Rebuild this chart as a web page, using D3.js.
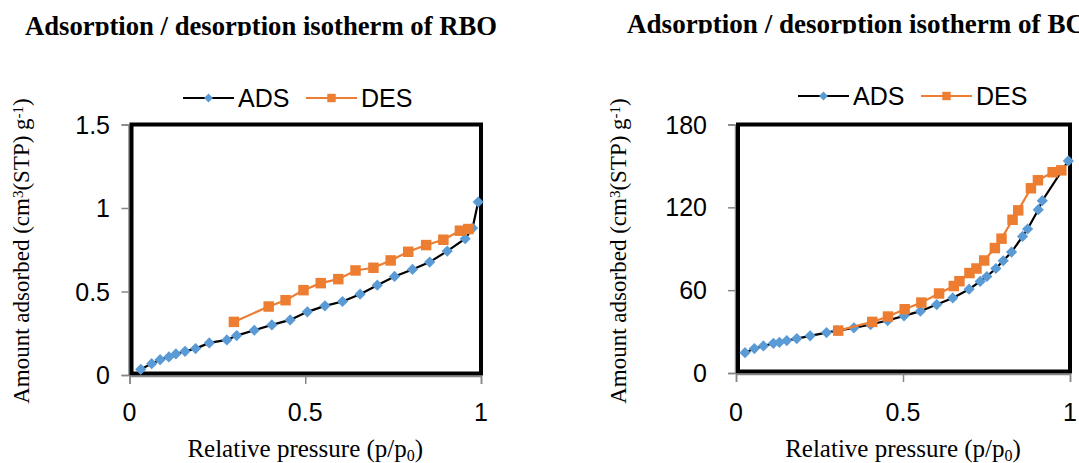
<!DOCTYPE html>
<html>
<head>
<meta charset="utf-8">
<script src="https://cdn.jsdelivr.net/npm/d3@7"></script>
<style>
  body { margin: 0; background: #fff; }
  svg { display: block; }
</style>
</head>
<body>
<div id="chart"></div>
<script>
// RBO isotherm (p/p0, cm3 g-1)
const rboAdsX = [0.032, 0.063, 0.087, 0.112, 0.132, 0.158, 0.188, 0.227, 0.277, 0.305, 0.355, 0.405, 0.457, 0.506, 0.556, 0.606, 0.656, 0.705, 0.754, 0.805, 0.854, 0.904, 0.955, 0.976, 0.992];
const rboAdsY = [0.034, 0.068, 0.092, 0.108, 0.126, 0.142, 0.158, 0.192, 0.21, 0.236, 0.268, 0.30, 0.33, 0.378, 0.414, 0.44, 0.484, 0.538, 0.59, 0.632, 0.676, 0.742, 0.816, 0.88, 1.036];
const rboDesX = [0.297, 0.396, 0.444, 0.495, 0.544, 0.594, 0.643, 0.694, 0.743, 0.793, 0.844, 0.893, 0.94, 0.964];
const rboDesY = [0.318, 0.41, 0.448, 0.508, 0.55, 0.574, 0.626, 0.642, 0.686, 0.738, 0.778, 0.81, 0.864, 0.874];

// BC isotherm
const bcAdsX = [0.027, 0.055, 0.082, 0.112, 0.13, 0.152, 0.182, 0.222, 0.271, 0.303, 0.353, 0.403, 0.454, 0.503, 0.552, 0.601, 0.649, 0.698, 0.731, 0.751, 0.778, 0.80, 0.825, 0.858, 0.873, 0.905, 0.917, 0.995];
const bcAdsY = [14.7, 17.7, 19.6, 21.5, 22.2, 23.5, 24.9, 26.9, 29.3, 30.7, 32.7, 35.1, 38.0, 41.4, 44.8, 49.6, 54.4, 60.7, 66.3, 69.9, 75.7, 81.3, 87.6, 98.9, 104.3, 118.3, 124.8, 153.6];
const bcDesX = [0.306, 0.408, 0.455, 0.505, 0.555, 0.608, 0.652, 0.669, 0.699, 0.72, 0.743, 0.775, 0.795, 0.828, 0.845, 0.883, 0.904, 0.948, 0.974];
const bcDesY = [30.7, 37.0, 40.9, 46.2, 51.0, 57.6, 63.0, 66.5, 72.4, 75.7, 81.5, 90.5, 97.3, 111, 117.8, 133.8, 139.6, 145.4, 146.8];

const xTicks = [0, 0.5, 1];
const rboYTicks = [0, 0.5, 1, 1.5];
const bcYTicks = [0, 60, 120, 180];

const seriesNames = ['ADS', 'DES'];
const adsColor = '#5b9bd5';
const desColor = '#ed7d31';

const svg = d3.select('#chart').append('svg')
    .attr('width', 1079)
    .attr('height', 463);

const zip = (xs, ys) => xs.map((x, i) => ({x: x, y: ys[i]}));

function drawChart(opt) {
    const x = d3.scaleLinear().domain([0, 1]).range([opt.left, opt.right]);
    const y = d3.scaleLinear().domain([0, opt.yMax]).range([opt.bottom, opt.top]);

    // Title (clipped like the original)
    const clipId = 'clip-' + opt.id;
    svg.append('clipPath').attr('id', clipId)
        .append('rect').attr('x', 0).attr('y', 0).attr('width', 1079).attr('height', opt.titleClip);
    svg.append('text')
        .attr('clip-path', `url(#${clipId})`)
        .attr('x', opt.titleX)
        .attr('y', opt.titleY)
        .attr('textLength', opt.titleLen)
        .attr('lengthAdjust', 'spacingAndGlyphs')
        .style('font-family', '"Liberation Serif", "Times New Roman", serif')
        .style('font-weight', 'bold')
        .style('font-size', '28px')
        .text(opt.title);

    // Gray axes with outward ticks
    const axisColor = '#868686';
    const yAxis = d3.axisLeft(y).tickValues(opt.yTicks).tickSize(7).tickFormat('');
    const xAxis = d3.axisBottom(x).tickValues(xTicks).tickSize(8).tickFormat('');
    const gy = svg.append('g').attr('transform', `translate(${opt.left - 1},0)`).call(yAxis);
    const gx = svg.append('g').attr('transform', `translate(0,${opt.bottom + 1})`).call(xAxis);
    [gy, gx].forEach(g => {
        g.select('.domain').attr('stroke', axisColor).attr('stroke-width', 1.5);
        g.selectAll('.tick line').attr('stroke', axisColor).attr('stroke-width', 1.5);
    });

    // Thick black plot border
    svg.append('rect')
        .attr('x', opt.left + 2)
        .attr('y', opt.top)
        .attr('width', opt.right - opt.left - 2)
        .attr('height', opt.bottom - opt.top - 1.5)
        .attr('fill', 'none')
        .attr('stroke', '#000')
        .attr('stroke-width', 4);

    // Tick labels
    svg.selectAll(null).data(opt.yTicks).enter().append('text')
        .attr('x', opt.yLabelX)
        .attr('y', d => y(d) + 9)
        .attr('text-anchor', 'end')
        .style('font-family', '"Liberation Sans", Arial, sans-serif')
        .style('font-size', '25px')
        .text(d => d);
    svg.selectAll(null).data(xTicks).enter().append('text')
        .attr('x', d => x(d))
        .attr('y', 421)
        .attr('text-anchor', 'middle')
        .style('font-family', '"Liberation Sans", Arial, sans-serif')
        .style('font-size', '25px')
        .text(d => d);

    // Axis titles
    const xt = svg.append('text')
        .attr('x', (opt.left + opt.right) / 2)
        .attr('y', 457)
        .attr('text-anchor', 'middle')
        .style('font-family', '"Liberation Serif", "Times New Roman", serif')
        .style('font-size', '25px');
    xt.append('tspan').text('Relative pressure (p/p');
    xt.append('tspan').attr('baseline-shift', '-25%').style('font-size', '16px').text('0');
    xt.append('tspan').text(')');

    const yt = svg.append('text')
        .attr('transform', `translate(${opt.yTitleX},251) rotate(-90)`)
        .attr('text-anchor', 'middle')
        .style('font-family', '"Liberation Serif", "Times New Roman", serif')
        .style('font-size', '23px');
    yt.append('tspan').text('Amount adsorbed (cm');
    yt.append('tspan').attr('baseline-shift', '40%').style('font-size', '15px').text('3');
    yt.append('tspan').text('(STP) g');
    yt.append('tspan').attr('baseline-shift', '40%').style('font-size', '15px').text('-1');
    yt.append('tspan').text(')');

    // Series
    const line = d3.line().x(d => x(d.x)).y(d => y(d.y));
    const ads = zip(opt.adsX, opt.adsY);
    const des = zip(opt.desX, opt.desY);
    const diamond = d3.symbol().type(d3.symbolDiamond2).size(80);
    const square = d3.symbol().type(d3.symbolSquare2).size(140);

    svg.append('path').datum(ads).attr('d', line)
        .attr('fill', 'none').attr('stroke', '#000').attr('stroke-width', 2.2);
    svg.selectAll(null).data(ads).enter().append('path')
        .attr('d', diamond)
        .attr('transform', d => `translate(${x(d.x)},${y(d.y)})`)
        .attr('fill', adsColor);
    svg.append('path').datum(des).attr('d', line)
        .attr('fill', 'none').attr('stroke', desColor).attr('stroke-width', 2.2);
    svg.selectAll(null).data(des).enter().append('path')
        .attr('d', square)
        .attr('transform', d => `translate(${x(d.x)},${y(d.y)})`)
        .attr('fill', desColor);

    // Legend
    const legend = svg.append('g').attr('transform', `translate(${opt.legendX},${opt.legendY})`);
    const items = [
        {name: seriesNames[0], line: '#000', color: adsColor, sym: d3.symbol().type(d3.symbolDiamond2).size(50)},
        {name: seriesNames[1], line: desColor, color: desColor, sym: d3.symbol().type(d3.symbolSquare2).size(90)}
    ];
    items.forEach((it, i) => {
        const g = legend.append('g').attr('transform', `translate(${i * 123},0)`);
        g.append('line').attr('x1', 0).attr('x2', 51).attr('y1', 0).attr('y2', 0)
            .attr('stroke', it.line).attr('stroke-width', 2.2);
        g.append('path').attr('d', it.sym).attr('transform', 'translate(25.5,0)').attr('fill', it.color);
        g.append('text').attr('x', 55).attr('y', 9)
            .style('font-family', '"Liberation Sans", Arial, sans-serif')
            .style('font-size', '25px')
            .text(it.name);
    });
}

drawChart({
    id: 'rbo', title: 'Adsorption / desorption isotherm of RBO',
    titleX: 25, titleY: 35, titleClip: 36, titleLen: 472,
    left: 129.5, right: 481, top: 124.5, bottom: 375,
    yMax: 1.5, yTicks: rboYTicks, yLabelX: 110, yTitleX: 29,
    legendX: 183, legendY: 98,
    adsX: rboAdsX, adsY: rboAdsY, desX: rboDesX, desY: rboDesY
});

drawChart({
    id: 'bc', title: 'Adsorption / desorption isotherm of BC',
    titleX: 627, titleY: 33, titleClip: 33.5, titleLen: 458,
    left: 736, right: 1070, top: 124.5, bottom: 373,
    yMax: 180, yTicks: bcYTicks, yLabelX: 707, yTitleX: 626,
    legendX: 798, legendY: 96,
    adsX: bcAdsX, adsY: bcAdsY, desX: bcDesX, desY: bcDesY
});
</script>
</body>
</html>
